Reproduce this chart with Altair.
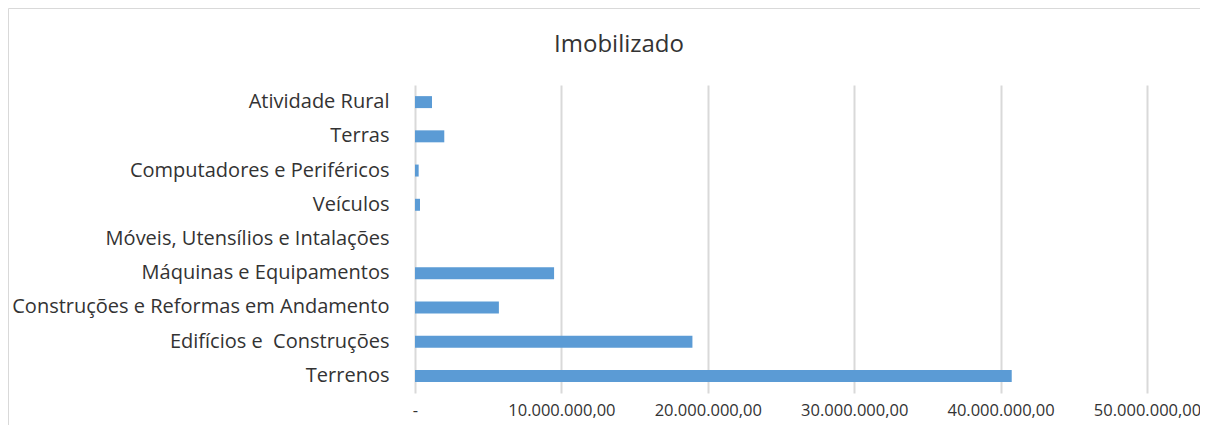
import altair as alt
import pandas as pd

title_text = ["Imobilizado"]
categories = [
    "Atividade Rural",
    "Terras",
    "Computadores e Periféricos",
    "Veículos",
    "Móveis, Utensílios e Intalações",
    "Máquinas e Equipamentos",
    "Construções e Reformas em Andamento",
    "Edifícios e\u00a0 Construções",
    "Terrenos",
]
values = [1160000, 2000000, 250000, 340000, 0, 9500000, 5730000, 18950000, 40760000]
tick_values = [0, 10000000, 20000000, 30000000, 40000000, 50000000]

df = pd.DataFrame({"categoria": categories, "valor": values})
df_title = pd.DataFrame({"t": title_text})

FONT = "Open Sans"
TXT = "#333333"

bars = alt.Chart(df).mark_bar(color="#5b9bd5").encode(
    y=alt.Y(
        "categoria:N",
        sort=categories,
        title=None,
        scale=alt.Scale(paddingInner=0.65, paddingOuter=0.325),
        axis=alt.Axis(
            ticks=False, domain=False, labelPadding=26, labelFontSize=20,
            labelFont=FONT, labelColor=TXT, labelLimit=500,
        ),
    ),
    x=alt.X(
        "valor:Q",
        title=None,
        scale=alt.Scale(domain=[0, 50000000], nice=False),
        axis=alt.Axis(
            values=tick_values, ticks=False, domain=False, grid=True,
            gridColor="#d9d9d9", gridWidth=2, labelPadding=9,
            labelFontSize=16.5, labelFont=FONT, labelColor=TXT,
            labelOverlap=False, labelFlush=False,
            labelExpr="datum.value == 0 ? '-' : format(datum.value / 1000000, 'd') + '.000.000,00'",
        ),
    ),
)

title = alt.Chart(df_title).mark_text(
    font=FONT, fontSize=24, color=TXT, baseline="middle", align="center"
).encode(text="t:N", x=alt.value(204), y=alt.value(-40))

border_top = alt.Chart(df_title).mark_rule(color="#d9d9d9", strokeWidth=1).encode(
    x=alt.value(-406.5), x2=alt.value(900), y=alt.value(-76.5), y2=alt.value(-76.5)
)
border_left = alt.Chart(df_title).mark_rule(color="#d9d9d9", strokeWidth=1).encode(
    x=alt.value(-406.5), x2=alt.value(-406.5), y=alt.value(-76.5), y2=alt.value(400)
)

chart = alt.layer(bars, title, border_top, border_left).properties(
    width=732,
    height=308,
    autosize=alt.AutoSizeParams(type="none"),
    padding={"left": 407, "top": 77, "right": 53, "bottom": 32},
).configure_view(stroke=None)

chart.save("out.html", embed_options={"renderer": "svg", "actions": False})
